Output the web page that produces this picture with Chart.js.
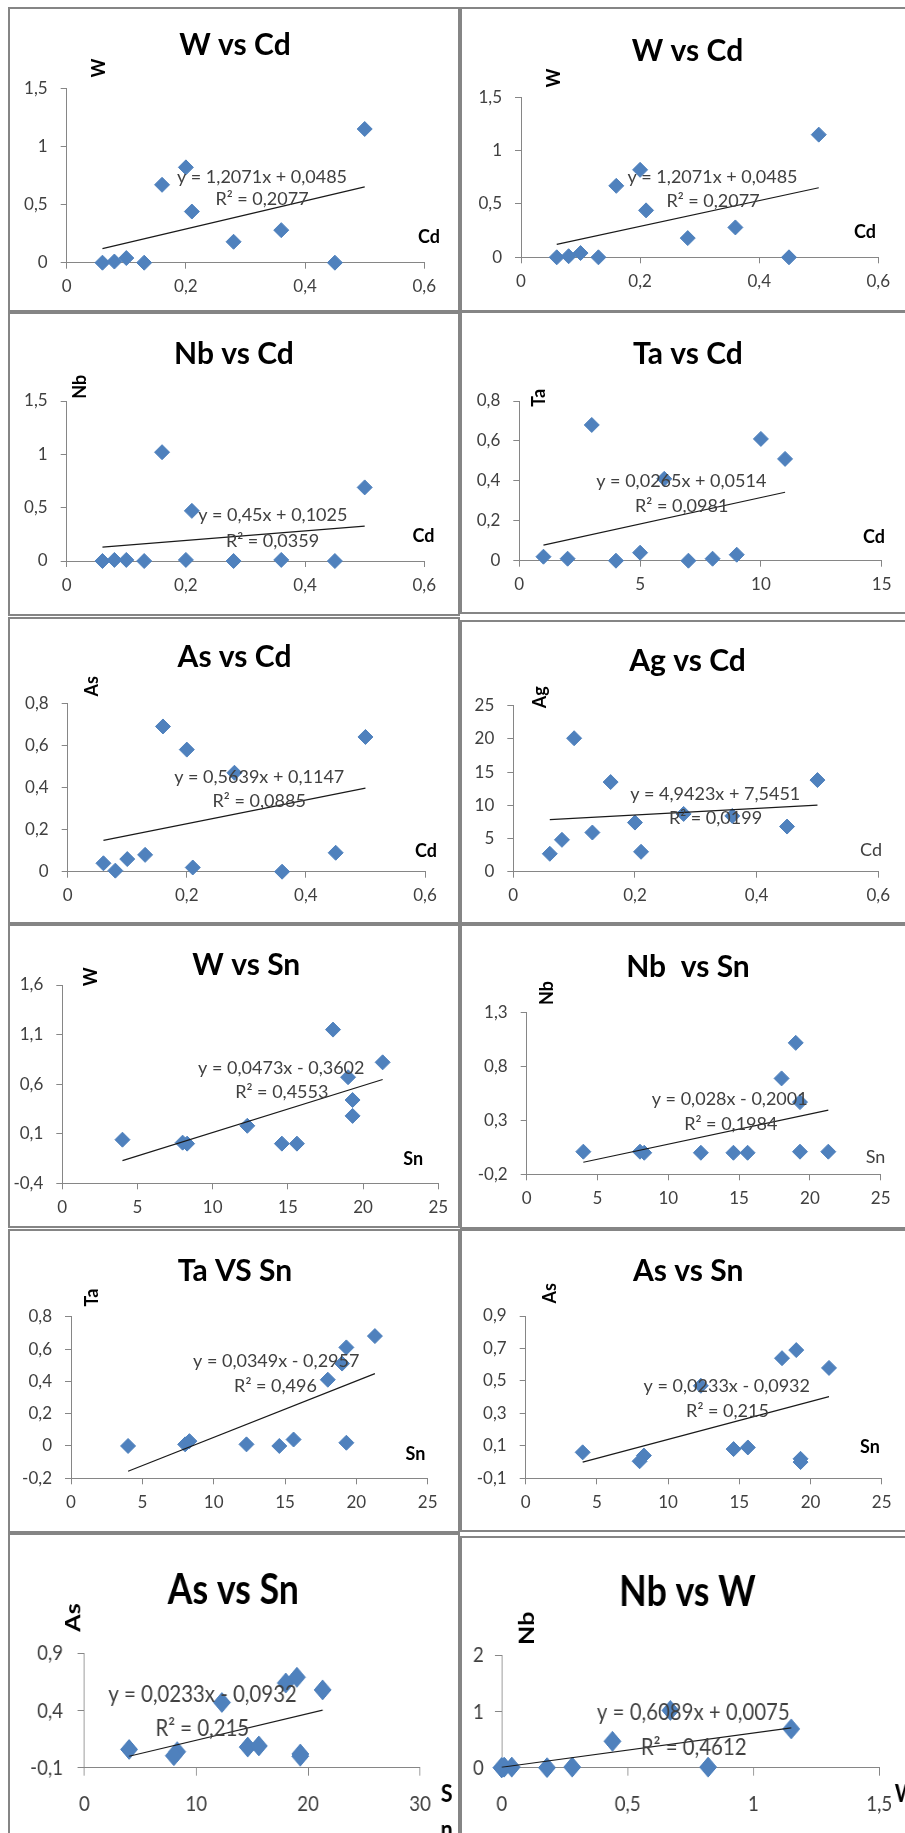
<!DOCTYPE html>
<html>
<head>
<meta charset="utf-8">
<script src="https://cdn.jsdelivr.net/npm/chart.js@4.4.1/dist/chart.umd.min.js"></script>
<style>
  body { margin: 0; background: #fff; width: 905px; height: 1833px; overflow: hidden; position: relative; }
  .frame { position: absolute; box-sizing: border-box; border: 2px solid #858585; }
  canvas { position: absolute; transform-origin: 0 0; }
</style>
</head>
<body>
<script>
// samples, sorted by Cd
const cd  = [0.06, 0.08, 0.10, 0.13, 0.16, 0.20, 0.21, 0.28, 0.36, 0.45, 0.50];
const sn  = [8.3, 8, 4, 14.6, 19, 21.3, 19.3, 12.3, 19.3, 15.6, 18];
const w   = [0, 0.01, 0.04, 0, 0.67, 0.82, 0.44, 0.18, 0.28, 0, 1.15];
const nb  = [0, 0.01, 0.01, 0, 1.02, 0.01, 0.47, 0, 0.01, 0, 0.69];
const asv = [0.04, 0.005, 0.06, 0.08, 0.69, 0.58, 0.02, 0.47, 0, 0.09, 0.64];
const ag  = [2.7, 4.8, 20.1, 5.9, 13.5, 7.4, 3.0, 8.7, 8.4, 6.8, 13.8];

// Ta plots have their own x values
const taCdX = [1, 2, 3, 4, 5, 6, 7, 8, 9, 10, 11];
const taCdY = [0.02, 0.01, 0.68, 0, 0.04, 0.41, 0, 0.01, 0.03, 0.61, 0.51];
const taSnX = [4, 8, 8.3, 12.3, 14.6, 15.6, 18, 19, 19.3, 19.3, 21.3];
const taSnY = [0, 0.01, 0.03, 0.01, 0, 0.04, 0.41, 0.51, 0.61, 0.02, 0.68];

// linear trendlines (as printed on each chart)
const slopes     = [1.2071, 1.2071, 0.45, 0.0265, 0.5639, 4.9423, 0.0473, 0.028, 0.0349, 0.0233, 0.0233, 0.6089];
const intercepts = [0.0485, 0.0485, 0.1025, 0.0514, 0.1147, 7.5451, -0.3602, -0.2001, -0.2957, -0.0932, -0.0932, 0.0075];
const eqLabels = ['y = 1,2071x + 0,0485', 'y = 1,2071x + 0,0485', 'y = 0,45x + 0,1025', 'y = 0,0265x + 0,0514',
  'y = 0,5639x + 0,1147', 'y = 4,9423x + 7,5451', 'y = 0,0473x - 0,3602', 'y = 0,028x - 0,2001',
  'y = 0,0349x - 0,2957', 'y = 0,0233x - 0,0932', 'y = 0,0233x - 0,0932', 'y = 0,6089x + 0,0075'];
const r2Labels = ['R² = 0,2077', 'R² = 0,2077', 'R² = 0,0359', 'R² = 0,0981', 'R² = 0,0885', 'R² = 0,0199',
  'R² = 0,4553', 'R² = 0,1984', 'R² = 0,496', 'R² = 0,215', 'R² = 0,215', 'R² = 0,4612'];

const titles = ['W vs Cd', 'W vs Cd', 'Nb vs Cd', 'Ta vs Cd', 'As vs Cd', 'Ag vs Cd',
  'W vs Sn', 'Nb  vs Sn', 'Ta VS Sn', 'As vs Sn', 'As vs Sn', 'Nb vs W'];
const yNames = ['W', 'W', 'Nb', 'Ta', 'As', 'Ag', 'W', 'Nb', 'Ta', 'As', 'As', 'Nb'];
const xNames = ['Cd', 'Cd', 'Cd', 'Cd', 'Cd', 'Cd', 'Sn', 'Sn', 'Sn', 'Sn', 'S\nn', 'W'];

// tick labels
const ticksCd   = [0, 0.2, 0.4, 0.6];
const ticksIdx  = [0, 5, 10, 15];
const ticksSn   = [0, 5, 10, 15, 20, 25];
const ticksSn30 = [0, 10, 20, 30];
const ticksWx   = [0, 0.5, 1, 1.5];
const ticks15   = [0, 0.5, 1, 1.5];
const ticks08   = [0, 0.2, 0.4, 0.6, 0.8];
const ticksAg   = [0, 5, 10, 15, 20, 25];
const ticksWSn  = [-0.4, 0.1, 0.6, 1.1, 1.6];
const ticksNbSn = [-0.2, 0.3, 0.8, 1.3];
const ticksTaSn = [-0.2, 0, 0.2, 0.4, 0.6, 0.8];
const ticksAsSn = [-0.1, 0.1, 0.3, 0.5, 0.7, 0.9];
const ticksAsBig = [-0.1, 0.4, 0.9];
const ticksNbW  = [0, 1, 2];

const series = [
  { xs: cd, ys: w, xt: ticksCd, yt: ticks15 },
  { xs: cd, ys: w, xt: ticksCd, yt: ticks15 },
  { xs: cd, ys: nb, xt: ticksCd, yt: ticks15 },
  { xs: taCdX, ys: taCdY, xt: ticksIdx, yt: ticks08 },
  { xs: cd, ys: asv, xt: ticksCd, yt: ticks08 },
  { xs: cd, ys: ag, xt: ticksCd, yt: ticksAg },
  { xs: sn, ys: w, xt: ticksSn, yt: ticksWSn },
  { xs: sn, ys: nb, xt: ticksSn, yt: ticksNbSn },
  { xs: taSnX, ys: taSnY, xt: ticksSn, yt: ticksTaSn },
  { xs: sn, ys: asv, xt: ticksSn, yt: ticksAsSn },
  { xs: sn, ys: asv, xt: ticksSn30, yt: ticksAsBig },
  { xs: w, ys: nb, xt: ticksWx, yt: ticksNbW }
];

// page layout: frame rect, plot area (l,t,r,b) and text anchors, in page pixels
const boxes = [
  { rect: [8, 7, 452, 305], plot: [66.7, 88.3, 424.3, 262.7], title: [235, 55], yT: [99.5, 68], xT: [429, 242.5], eq: [262, 182.7], r2: [262, 205] },
  { rect: [460, 7, 447, 305], plot: [521, 97.3, 878.3, 257.3], title: [687.5, 61], yT: [554, 78], xT: [865, 237.7], eq: [712.5, 182.7], r2: [713, 207] },
  { rect: [8, 312, 452, 304], plot: [66.7, 401, 424.3, 561], title: [234, 364], yT: [80, 386.7], xT: [423.5, 541.7], eq: [272.8, 521], r2: [272.5, 546.7] },
  { rect: [460, 311, 447, 303], plot: [519.3, 401, 881.7, 560.7], title: [688, 364], yT: [538.8, 397.8], xT: [874, 543.3], eq: [681.3, 486.7], r2: [681.7, 512.3] },
  { rect: [8, 617, 452, 307], plot: [67.7, 703.3, 425, 871.7], title: [234.5, 667.3], yT: [92, 686.2], xT: [426, 856.7], eq: [259.2, 782.7], r2: [259.2, 807.3] },
  { rect: [460, 620, 447, 304], plot: [513.3, 705.7, 878.3, 871.7], title: [687.5, 671], yT: [540.5, 697.2], xT: [871, 856], eq: [715.2, 800], r2: [715.5, 824.3], xPlain: true },
  { rect: [8, 924, 452, 304], plot: [62.3, 985, 438.3, 1183.3], title: [246.3, 975], yT: [90.8, 976.7], xT: [413.3, 1165], eq: [281.3, 1074], r2: [281.8, 1098.3] },
  { rect: [460, 924, 447, 305], plot: [526.7, 1012.7, 880.7, 1174.3], title: [688, 976.7], yT: [547.5, 993], xT: [875.5, 1163.3], eq: [729.7, 1105], r2: [730.8, 1130], xPlain: true },
  { rect: [8, 1229, 452, 304], plot: [71, 1316.7, 427.7, 1478.3], title: [235, 1280.7], yT: [92.2, 1297.5], xT: [415.5, 1460], eq: [276.2, 1367.3], r2: [275.5, 1392.3] },
  { rect: [460, 1229, 447, 303], plot: [525.7, 1316, 881.7, 1478.3], title: [688.2, 1280.7], yT: [550.3, 1293.3], xT: [870, 1452.7], eq: [726.8, 1391.7], r2: [727.5, 1416.7] },
  { rect: [8, 1533, 452, 312], plot: [84.3, 1653.3, 420, 1767.7], title: [233.3, 1604.3], yT: [73.3, 1617.5], xT: [446.7, 1802], eq: [202.5, 1701.7], r2: [202.3, 1736], big: true, yPad: 17 },
  { rect: [460, 1536, 447, 309], plot: [501.7, 1655.3, 879.3, 1767.7], title: [687.5, 1606], yT: [527.2, 1628.3], xT: [906, 1802], eq: [693.3, 1720], r2: [693.7, 1755], big: true, yPad: 13 }
];

const normal = { sx: 1, title: 30, tick: 17, eq: 18, axisT: 18, tickLen: 6, yPad: 13, xPad: 8, r: 7.5 };
const big    = { sx: 0.85, title: 42, tick: 22, eq: 24, axisT: 25, tickLen: 8, yPad: 15, xPad: 15, r: 10 };

const FONT = 'Lato, "Open Sans", sans-serif';
const axisColor = '#868686';
const textColor = '#404040';
const markerColor = '#4F81BD';
const fmt = v => String(Math.round(v * 100) / 100).replace('.', ',');

function textPlugin(t) {
  return {
    id: 'panelText',
    afterDraw(chart) {
      const ctx = chart.ctx;
      const put = (s, x, y, size, bold, color, rot, align) => {
        ctx.save();
        ctx.font = (bold ? 'bold ' : '') + size + 'px ' + FONT;
        ctx.fillStyle = color;
        ctx.textAlign = align || 'center';
        ctx.textBaseline = rot ? 'middle' : 'alphabetic';
        ctx.translate(x, y);
        if (rot) ctx.rotate(-Math.PI / 2);
        ctx.fillText(s, 0, 0);
        ctx.restore();
      };
      put(t.title, t.titleX, t.titleY, t.st.title, true, '#000');
      put(t.yName, t.yX, t.yY, t.st.axisT, true, '#000', true);
      t.xName.split('\n').forEach((s, k) => {
        put(s, t.xX, t.xY + k * 36, t.st.axisT, !t.xPlain, t.xPlain ? textColor : '#000');
      });
      put(t.eq, t.eqX, t.eqY, t.st.eq, false, textColor);
      put(t.r2, t.r2X, t.r2Y, t.st.eq, false, textColor);
    }
  };
}

series.forEach((c, i) => {
  const b = boxes[i];
  const st = Object.assign({}, b.big ? big : normal);
  if (b.yPad) st.yPad = b.yPad;
  const sx = st.sx;
  const [rx, ry, rw, rh] = b.rect;

  const frame = document.createElement('div');
  frame.className = 'frame';
  Object.assign(frame.style, { left: rx + 'px', top: ry + 'px', width: rw + 'px', height: rh + 'px' });
  const cv = document.createElement('canvas');
  const cw = Math.round(rw / sx);
  cv.width = cw;
  cv.height = rh;
  Object.assign(cv.style, { left: rx + 'px', top: ry + 'px', width: cw + 'px', height: rh + 'px' });
  if (sx !== 1) cv.style.transform = 'scaleX(' + sx + ')';
  document.body.append(frame, cv);

  const px = x => (x - rx) / sx;
  const py = y => y - ry;
  const L = px(b.plot[0]), T = py(b.plot[1]), R = px(b.plot[2]), B = py(b.plot[3]);
  // axes take all the room left of / below the plot so tick labels are never clipped
  const YW = L, XH = rh - B;

  const pts = c.xs.map((x, k) => ({ x: x, y: c.ys[k] }));
  const x0 = Math.min(...c.xs), x1 = Math.max(...c.xs);
  const m = slopes[i], q = intercepts[i];
  const trend = [{ x: x0, y: m * x0 + q }, { x: x1, y: m * x1 + q }];

  const axis = (ticks, isX) => ({
    type: 'linear',
    position: isX ? 'bottom' : 'left',
    min: ticks[0],
    max: ticks[ticks.length - 1],
    afterBuildTicks: s => { s.ticks = ticks.map(v => ({ value: v })); },
    afterFit: s => { if (isX) s.height = XH; else s.width = YW; },
    grid: { drawOnChartArea: false, drawTicks: true, tickLength: st.tickLen, color: axisColor, lineWidth: 1 },
    border: { display: true, color: axisColor, width: 1 },
    ticks: {
      font: { family: FONT, size: st.tick },
      color: textColor,
      padding: isX ? st.xPad : st.yPad,
      autoSkip: false,
      maxRotation: 0,
      callback: v => fmt(v)
    }
  });

  new Chart(cv, {
    type: 'scatter',
    data: {
      datasets: [
        { type: 'line', data: trend, borderColor: '#1a1a1a', borderWidth: 1.2, pointRadius: 0, fill: false, order: 0 },
        { data: pts, pointStyle: 'rectRot', pointRadius: st.r, backgroundColor: markerColor,
          borderColor: markerColor, borderWidth: 1, clip: false, order: 1 }
      ]
    },
    options: {
      responsive: false,
      animation: false,
      devicePixelRatio: 1,
      events: [],
      layout: { autoPadding: false, padding: { left: 0, top: T, right: cw - R, bottom: 0 } },
      plugins: { legend: { display: false }, tooltip: { enabled: false }, title: { display: false } },
      scales: { x: axis(c.xt, true), y: axis(c.yt, false) }
    },
    plugins: [textPlugin({
      st: st,
      title: titles[i], titleX: px(b.title[0]), titleY: py(b.title[1]),
      yName: yNames[i], yX: px(b.yT[0]), yY: py(b.yT[1]),
      xName: xNames[i], xX: px(b.xT[0]), xY: py(b.xT[1]), xPlain: !!b.xPlain,
      eq: eqLabels[i], eqX: px(b.eq[0]), eqY: py(b.eq[1]),
      r2: r2Labels[i], r2X: px(b.r2[0]), r2Y: py(b.r2[1])
    })]
  });
});
</script>
</body>
</html>
